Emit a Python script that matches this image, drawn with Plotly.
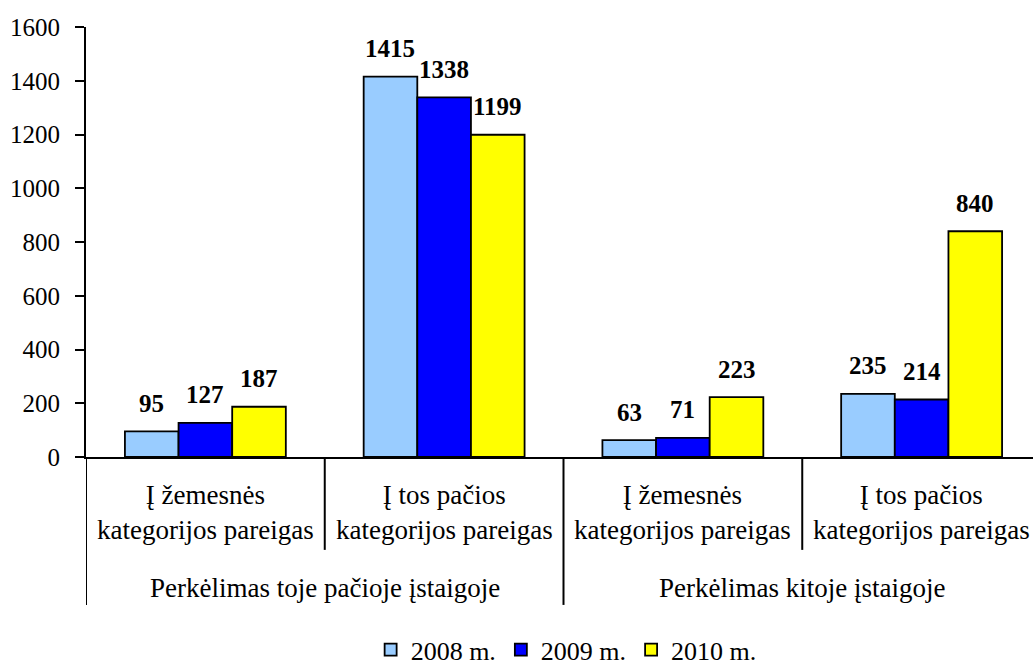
import plotly.graph_objects as go

# Data
subcategories = [
    "Į žemesnės<br>kategorijos pareigas",
    "Į tos pačios<br>kategorijos pareigas",
    "Į žemesnės<br>kategorijos pareigas",
    "Į tos pačios<br>kategorijos pareigas",
]
groups = ["Perkėlimas toje pačioje įstaigoje", "Perkėlimas kitoje įstaigoje"]
series_names = ["2008 m.", "2009 m.", "2010 m."]
values_2008 = [95, 1415, 63, 235]
values_2009 = [127, 1338, 71, 214]
values_2010 = [187, 1199, 223, 840]
colors = ["#99CCFF", "#0000FF", "#FFFF00"]

series_values = [values_2008, values_2009, values_2010]
FONT = "Liberation Serif"
BARGAP = 0.326
bar_w = (1 - BARGAP) / 3

x_pos = list(range(len(subcategories)))

fig = go.Figure()
for name, vals, col in zip(series_names, series_values, colors):
    fig.add_trace(go.Bar(
        x=x_pos, y=vals, name=name,
        marker=dict(color=col, line=dict(color="black", width=1.8)),
    ))

# Value labels above each bar
annotations = []
for s, vals in enumerate(series_values):
    offset = (s - 1) * bar_w
    for i, v in enumerate(vals):
        annotations.append(dict(
            x=i + offset, y=v, xref="x", yref="y", text=f"<b>{v}</b>",
            showarrow=False, yshift=28,
            font=dict(family=FONT, size=25, color="black"),
        ))

# Category labels under the axis
for i, lab in enumerate(subcategories):
    annotations.append(dict(
        x=i, y=-0.130, xref="x", yref="paper", text=lab, showarrow=False,
        yanchor="middle", font=dict(family=FONT, size=27, color="black"),
    ))
for g, lab in enumerate(groups):
    annotations.append(dict(
        x=0.5 + 2 * g, y=-0.305, xref="x", yref="paper", text=lab, showarrow=False,
        yanchor="middle", font=dict(family=FONT, size=27, color="black"),
    ))

# Divider lines between categories
shapes = []
for xd, y_end in [(-0.5, -0.344), (0.5, -0.216), (1.5, -0.344), (2.5, -0.216)]:
    shapes.append(dict(
        type="line", xref="x", yref="paper", x0=xd, x1=xd, y0=0, y1=y_end,
        line=dict(color="black", width=2),
    ))

fig.update_layout(
    width=1033, height=671,
    font=dict(family=FONT, color="black"),
    margin=dict(l=86, r=0, t=27, b=214, autoexpand=False),
    paper_bgcolor="white", plot_bgcolor="white",
    barmode="group", bargap=BARGAP, bargroupgap=0,
    showlegend=True,
    legend=dict(
        orientation="h", x=0.507, xanchor="center", y=-0.448, yanchor="middle",
        font=dict(family=FONT, size=26, color="black"), itemwidth=30,
        traceorder="normal", tracegroupgap=0,
    ),
    annotations=annotations,
    shapes=shapes,
    xaxis=dict(
        range=[-0.5, 3.4665], showticklabels=False, ticks="",
        showline=True, linecolor="black", linewidth=2,
        showgrid=False, zeroline=False, fixedrange=True,
    ),
    yaxis=dict(
        range=[0, 1600], dtick=200, tick0=0,
        showline=True, linecolor="black", linewidth=2,
        ticks="outside", ticklen=9, tickwidth=2, tickcolor="black",
        ticklabelstandoff=10,
        tickfont=dict(family=FONT, size=25, color="black"),
        showgrid=False, zeroline=False,
    ),
)

fig.write_html("out.html")
